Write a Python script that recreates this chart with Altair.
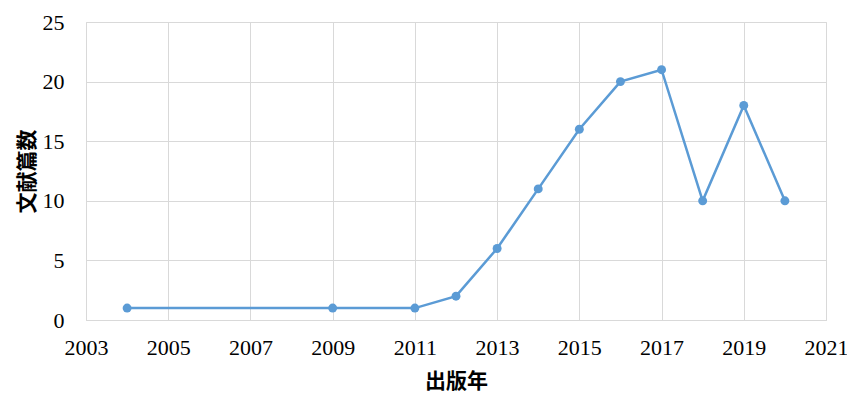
import altair as alt
import pandas as pd

years = [2004, 2009, 2011, 2012, 2013, 2014, 2015, 2016, 2017, 2018, 2019, 2020]
counts = [1, 1, 1, 2, 6, 11, 16, 20, 21, 10, 18, 10]
x_ticks = [2003, 2005, 2007, 2009, 2011, 2013, 2015, 2017, 2019, 2021]
y_ticks = [0, 5, 10, 15, 20, 25]

df = pd.DataFrame({"year": years, "count": counts})

blue = "#5B9BD5"

x = alt.X("year:Q", title="出版年",
          scale=alt.Scale(domain=[2003, 2021], nice=False, zero=False),
          axis=alt.Axis(values=x_ticks, format="d", labelFont="Liberation Serif",
                        labelFontSize=22, labelColor="#000000", labelPadding=17,
                        labelFlush=False, labelOverlap=False,
                        titleFont="Noto Sans CJK JP", titleFontSize=21, titleFontWeight="bold",
                        titleColor="#000000", titlePadding=12,
                        ticks=False, domainColor="#D9D9D9", gridColor="#D9D9D9", grid=True))
y = alt.Y("count:Q", title="文献篇数",
          scale=alt.Scale(domain=[0, 25], nice=False),
          axis=alt.Axis(values=y_ticks, labelFont="Liberation Serif", labelFontSize=22,
                        labelColor="#000000", labelPadding=22, labelFlush=False,
                        titleFont="Noto Sans CJK JP", titleFontSize=21, titleFontWeight="bold",
                        titleColor="#000000", titlePadding=5,
                        ticks=False, domain=False, gridColor="#D9D9D9", grid=True))

line = alt.Chart(df).mark_line(color=blue, strokeWidth=2.5).encode(x=x, y=y)
pts = alt.Chart(df).mark_circle(color=blue, size=80, opacity=1).encode(x=x, y=y)

chart = (line + pts).properties(
    width=740, height=298,
    autosize=alt.AutoSizeParams(type="none"),
    padding={"left": 78, "top": 14, "right": 21, "bottom": 76},
).configure_view(stroke="#D9D9D9", strokeWidth=1).configure(background="white")

chart.save("out.html", embed_options={"renderer": "svg", "actions": False})
